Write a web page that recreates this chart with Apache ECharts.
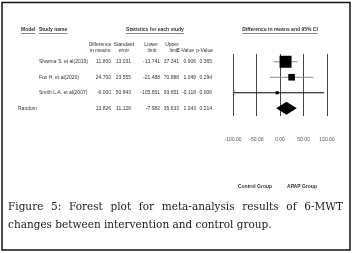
<!DOCTYPE html>
<html>
<head>
<meta charset="utf-8">
<script src="https://cdn.jsdelivr.net/npm/echarts@6/dist/echarts.min.js"></script>
<style>
html, body { margin: 0; padding: 0; background: #fff; }
#main { width: 353px; height: 253px; }
</style>
</head>
<body>
<div id="main"></div>
<script>
// 表格数据
var models = ['', '', '', 'Random'];
var studies = ['Sharma S. et al(2019)', 'Fox H. et al(2020)', 'Smith L.A. et al(2007)', ''];
var diffs = [11.800, 24.700, -6.000, 13.826];
var stdErrs = [13.031, 23.555, 50.843, 11.126];
var lowers = [-13.741, -21.488, -105.651, -7.982];
var uppers = [37.341, 70.888, 93.651, 35.633];
var zValues = [0.906, 1.049, -0.118, 1.243];
var pValues = [0.365, 0.294, 0.906, 0.214];
var xTicks = [-100, -50, 0, 50, 100];
var captionLines = [
    'Figure 5: Forest plot for meta-analysis results of 6-MWT',
    'changes between intervention and control group.'
];

var chart = echarts.init(document.getElementById('main'), null, { renderer: 'canvas' });

var tableFont = 'Liberation Sans';
var fs = 5;
var gridLeft = 233, gridRight = 327;

var measureCtx = document.createElement('canvas').getContext('2d');
function textWidth(txt, font) {
    measureCtx.font = font;
    return measureCtx.measureText(txt).width;
}

function fmt(arr) {
    return arr.map(function (v) { return v.toFixed(3); });
}

// 每一列用一个 y 轴显示
function column(data, anchorX, align) {
    return {
        type: 'category',
        data: data,
        inverse: true,
        position: 'left',
        offset: gridLeft - anchorX,
        axisLine: { show: false },
        axisTick: { show: false },
        splitLine: { show: false },
        axisLabel: {
            interval: 0,
            margin: 0,
            align: align,
            fontSize: fs,
            fontFamily: tableFont,
            color: '#333'
        }
    };
}

var rowNames = studies.map(function (s, i) { return s || models[i]; });
var yAxes = [{
    type: 'category',
    data: rowNames,
    inverse: true,
    axisLine: { show: false },
    axisTick: { show: false },
    axisLabel: { show: false },
    splitLine: { show: false }
},
column(models, 18, 'left'),
column(studies, 39, 'left'),
column(fmt(diffs), 111, 'right'),
column(fmt(stdErrs), 131, 'right'),
column(fmt(lowers), 160, 'right'),
column(fmt(uppers), 179, 'right'),
column(fmt(zValues), 196, 'right'),
column(fmt(pValues), 212, 'right')];

// 表头
var graphics = [];
function header(txt, x, y, align, bold, underline) {
    var font = (bold ? 'bold ' : '') + fs + 'px "' + tableFont + '"';
    graphics.push({
        type: 'text', x: x, y: y,
        style: {
            text: txt, font: font, fill: '#333',
            align: align, verticalAlign: 'middle'
        }
    });
    if (underline) {
        var w = textWidth(txt, font);
        var x0 = align === 'center' ? x - w / 2 : (align === 'right' ? x - w : x);
        graphics.push({
            type: 'line',
            shape: { x1: x0, y1: y + 3.5, x2: x0 + w, y2: y + 3.5 },
            style: { stroke: '#333', lineWidth: 0.6 }
        });
    }
}
header('Model', 21, 30, 'left', true, true);
header('Study name', 39, 30, 'left', true, true);
header('Statistics for each study', 155, 30, 'center', true, true);
header('Difference in means and 95% CI', 280, 30, 'center', true, true);
header('Difference', 100, 45, 'center');
header('in means', 100, 51, 'center');
header('Standard', 124, 45, 'center');
header('error', 124, 51, 'center');
header('Lower', 151, 45, 'center');
header('limit', 152, 51, 'center');
header('Upper', 172, 45, 'center');
header('limit', 174, 51, 'center');
header('Z-Value', 194, 51, 'right');
header('p-Value', 213, 51, 'right');
header('Control Group', 255, 187, 'center', true);
header('APAP Group', 302, 187, 'center', true);

// 外框
graphics.push({
    type: 'rect',
    shape: { x: 2, y: 2.5, width: 348, height: 247.5 },
    style: { fill: 'none', stroke: '#111', lineWidth: 1.5 }
});

// 图注（两端对齐）
var capFont = '10.5px "DejaVu Serif"';
var capLeft = 8, capRight = 343;
captionLines.forEach(function (line, li) {
    var words = line.split(' ');
    var y = 207 + li * 18;
    var gap = textWidth(' ', capFont);
    if (li === 0) {
        var total = 0;
        words.forEach(function (w) { total += textWidth(w, capFont); });
        gap = (capRight - capLeft - total) / (words.length - 1);
    }
    var x = capLeft;
    words.forEach(function (w) {
        graphics.push({
            type: 'text', x: x, y: y,
            style: { text: w, font: capFont, fill: '#1a1a1a', verticalAlign: 'middle' }
        });
        x += textWidth(w, capFont) + gap;
    });
});

var maxW = 1 / (stdErrs[0] * stdErrs[0]);

function renderForest(params, api) {
    var i = api.value(0);
    var est = api.value(1), lo = api.value(2), hi = api.value(3);
    var c = api.coord([est, i]);
    var y = c[1];
    var xMin = api.coord([-100, i])[0];
    var xLo = api.coord([Math.max(lo, -100), i])[0];
    var xHi = api.coord([Math.min(hi, 100), i])[0];
    var children = [];
    if (models[i] === 'Random') {
        children.push({
            type: 'polygon',
            shape: { points: [[xLo, y], [c[0], y - 6.5], [xHi, y], [c[0], y + 6.5]] },
            style: { fill: '#000' }
        });
    } else {
        children.push({
            type: 'line',
            shape: { x1: xLo, y1: y, x2: xHi, y2: y },
            style: { stroke: i === 2 ? '#000' : '#888', lineWidth: 1 }
        });
        if (lo < -100) {
            children.push({
                type: 'polyline',
                shape: { points: [[xMin + 2.5, y - 3], [xMin, y], [xMin + 2.5, y + 3]] },
                style: { stroke: '#999', lineWidth: 0.8, fill: 'none' }
            });
        }
        // 方块大小按权重(1/se^2)的平方根
        var w = 1 / (stdErrs[i] * stdErrs[i]);
        var s = 12 * Math.sqrt(w / maxW);
        children.push({
            type: 'rect',
            shape: { x: c[0] - s / 2, y: y - s / 2, width: s, height: s },
            style: { fill: '#000' }
        });
    }
    return { type: 'group', children: children };
}

var option = {
    animation: false,
    backgroundColor: '#fff',
    grid: {
        left: gridLeft,
        right: 353 - gridRight,
        top: 54,
        bottom: 253 - 116,
        outerBoundsMode: 'none'
    },
    xAxis: {
        type: 'value',
        min: xTicks[0],
        max: xTicks[xTicks.length - 1],
        interval: 50,
        axisLine: { show: false },
        axisTick: { show: false },
        splitLine: { show: true, lineStyle: { color: '#444', width: 1 } },
        axisLabel: {
            margin: 21,
            fontSize: fs,
            fontFamily: tableFont,
            color: '#555',
            formatter: function (v) { return v.toFixed(2); }
        }
    },
    yAxis: yAxes,
    graphic: graphics,
    series: [{
        type: 'custom',
        renderItem: renderForest,
        clip: false,
        data: diffs.map(function (d, i) { return [i, d, lowers[i], uppers[i]]; }),
        encode: { x: [1, 2, 3], y: 0 }
    }]
};

chart.setOption(option);
</script>
</body>
</html>
